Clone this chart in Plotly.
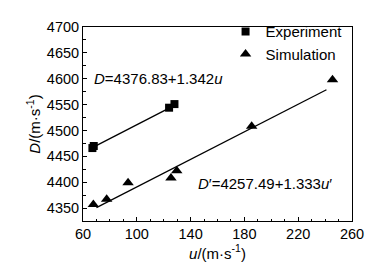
import plotly.graph_objects as go

# Data
exp_u = [67, 68, 124, 128]
exp_D = [4466, 4470, 4544, 4551]
sim_u = [67.7, 77.6, 93.5, 125.4, 129.7, 185.4, 245.5]
sim_D = [4357, 4367, 4399, 4408, 4422, 4508, 4598]

# Fitted lines: intercept, slope, u-range
exp_fit = (4376.83, 1.342)
exp_fit_u = [67.7, 128]
sim_fit = (4257.49, 1.333)
sim_fit_u = [70, 241]

x_ticks = [60, 100, 140, 180, 220, 260]
y_ticks = [4350, 4400, 4450, 4500, 4550, 4600, 4650, 4700]

FONT = "Arial, Liberation Sans, sans-serif"

fig = go.Figure()
fig.add_trace(go.Scatter(
    x=exp_fit_u, y=[exp_fit[0] + exp_fit[1] * u for u in exp_fit_u],
    mode="lines", line=dict(color="black", width=1.3), showlegend=False, hoverinfo="skip"))
fig.add_trace(go.Scatter(
    x=sim_fit_u, y=[sim_fit[0] + sim_fit[1] * u for u in sim_fit_u],
    mode="lines", line=dict(color="black", width=1.3), showlegend=False, hoverinfo="skip"))
fig.add_trace(go.Scatter(
    x=exp_u, y=exp_D, mode="markers", name="Experiment",
    marker=dict(symbol="square", size=8, color="black")))
fig.add_trace(go.Scatter(
    x=sim_u, y=sim_D, mode="markers", name="Simulation",
    marker=dict(symbol="triangle-up", size=10, color="black")))

fig.add_annotation(x=66.5, y=4601, xanchor="left", yanchor="middle", showarrow=False,
                   text="<i>D</i>=4376.83+1.342<i>u</i>", font=dict(size=15, color="black", family=FONT))
fig.add_annotation(x=144, y=4398, xanchor="left", yanchor="middle", showarrow=False,
                   text="<i>D</i>′=4257.49+1.333<i>u</i>′", font=dict(size=15, color="black", family=FONT))

axis_common = dict(
    showgrid=False, zeroline=False, showline=True, linecolor="black", linewidth=1,
    mirror=True, ticks="inside", tickcolor="black", ticklen=4, tickwidth=1,
    tickfont=dict(size=14.5, color="black", family=FONT), automargin=False,
)

# page body has an 8px default margin, so the figure is 8px smaller and offset
fig.update_layout(
    width=372, height=260,
    margin=dict(l=75, r=28, t=7, b=47),
    paper_bgcolor="white", plot_bgcolor="white",
    font=dict(family=FONT, color="black"),
    xaxis=dict(range=[60, 260], tickvals=x_ticks, ticktext=[str(v) for v in x_ticks],
               minor=dict(dtick=10, tick0=60, ticks="inside", ticklen=2.5, tickcolor="black"),
               title=dict(text="<i>u</i>/(m·s<sup>-1</sup>)", font=dict(size=15, family=FONT), standoff=4),
               **axis_common),
    yaxis=dict(range=[4325, 4700], tickvals=y_ticks, ticktext=[str(v) for v in y_ticks],
               minor=dict(dtick=25, tick0=4325, ticks="inside", ticklen=2.5, tickcolor="black"),
               title=dict(text="<i>D</i>/(m·s<sup>-1</sup>)", font=dict(size=15, family=FONT), standoff=2),
               **axis_common),
    legend=dict(x=0.53, y=1.06, xanchor="left", yanchor="top", bgcolor="rgba(0,0,0,0)",
                font=dict(size=15, family=FONT), itemwidth=30, tracegroupgap=0),
    showlegend=True,
)

fig.write_html("out.html")
